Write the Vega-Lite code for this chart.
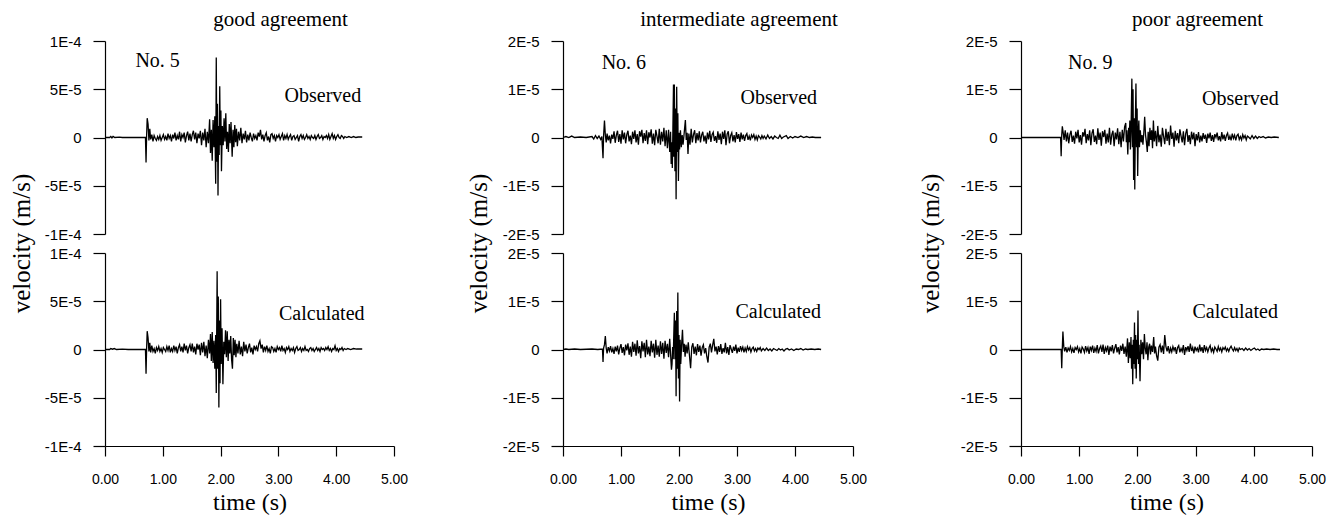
{
  "$schema": "https://vega.github.io/schema/vega-lite/v6.json",
  "background": "white",
  "padding": {"left": 9, "top": 9, "right": 5, "bottom": 5},
  "bounds": "flush",
  "spacing": 458,
  "config": {
    "view": {"stroke": null},
    "axis": {"grid": false, "domainColor": "black", "tickColor": "black", "labelColor": "black", "titleColor": "black", "domainWidth": 1.2, "tickWidth": 1.2, "labelFont": "Liberation Sans", "labelFontSize": 14, "titleFont": "Liberation Serif", "titleFontSize": 24, "titleFontWeight": "normal"},
    "axisY": {"tickSize": 12, "labelPadding": 12, "labelFontSize": 15, "titleFontSize": 25},
    "axisX": {"tickSize": 10, "labelPadding": 16, "titlePadding": 4, "labelFlush": false},
    "title": {"font": "Liberation Serif", "fontSize": 21, "fontWeight": "normal", "color": "black", "frame": "group", "anchor": "middle"},
    "text": {"font": "Liberation Serif", "fontSize": 20, "color": "black", "align": "center", "baseline": "middle"},
    "line": {"color": "black", "strokeWidth": 1.3}
  },
  "datasets": {
    "g_obs": [{"t":0,"v":0},{"t":0.08,"v":0},{"t":0.1,"v":1},{"t":0.12,"v":-0.5},{"t":0.14,"v":1.2},{"t":0.17,"v":0},{"t":0.25,"v":0.4},{"t":0.3,"v":0},{"t":0.45,"v":0.2},{"t":0.6,"v":0},{"t":0.7,"v":0},{"t":0.71,"v":-26},{"t":0.72,"v":2},{"t":0.73,"v":20},{"t":0.745,"v":14},{"t":0.76,"v":-3},{"t":0.775,"v":9},{"t":0.79,"v":-2},{"t":0.81,"v":3},{"t":0.83,"v":-4},{"t":0.85,"v":2},{"t":0.87,"v":-1},{"t":0.89,"v":-3},{"t":0.91,"v":1},{"t":0.93,"v":-2},{"t":0.95,"v":2},{"t":0.97,"v":-3},{"t":0.99,"v":0},{"t":1.01,"v":3},{"t":1.03,"v":-2},{"t":1.05,"v":1},{"t":1.07,"v":-3},{"t":1.09,"v":4},{"t":1.11,"v":-1},{"t":1.13,"v":2},{"t":1.15,"v":-4},{"t":1.17,"v":3},{"t":1.19,"v":-1},{"t":1.21,"v":5},{"t":1.23,"v":-3},{"t":1.25,"v":2},{"t":1.27,"v":-2},{"t":1.29,"v":6},{"t":1.31,"v":-4},{"t":1.33,"v":3},{"t":1.35,"v":0},{"t":1.37,"v":5},{"t":1.39,"v":-5},{"t":1.41,"v":2},{"t":1.43,"v":6},{"t":1.45,"v":-3},{"t":1.47,"v":4},{"t":1.49,"v":-4},{"t":1.51,"v":3},{"t":1.53,"v":7},{"t":1.55,"v":-2},{"t":1.57,"v":5},{"t":1.59,"v":-6},{"t":1.61,"v":4},{"t":1.63,"v":-1},{"t":1.65,"v":7},{"t":1.67,"v":-8},{"t":1.69,"v":5},{"t":1.71,"v":-3},{"t":1.73,"v":9},{"t":1.75,"v":-10},{"t":1.77,"v":6},{"t":1.79,"v":-6},{"t":1.81,"v":19},{"t":1.825,"v":-16},{"t":1.84,"v":8},{"t":1.855,"v":-24},{"t":1.87,"v":18},{"t":1.885,"v":-10},{"t":1.9,"v":22},{"t":1.915,"v":-48},{"t":1.925,"v":83},{"t":1.935,"v":-25},{"t":1.945,"v":35},{"t":1.955,"v":-60},{"t":1.965,"v":12},{"t":1.975,"v":-18},{"t":1.985,"v":53},{"t":1.995,"v":-8},{"t":2.005,"v":28},{"t":2.015,"v":-35},{"t":2.03,"v":12},{"t":2.045,"v":-8},{"t":2.06,"v":20},{"t":2.075,"v":-4},{"t":2.09,"v":25},{"t":2.105,"v":-12},{"t":2.12,"v":6},{"t":2.135,"v":-15},{"t":2.15,"v":14},{"t":2.165,"v":-6},{"t":2.18,"v":16},{"t":2.2,"v":-20},{"t":2.215,"v":8},{"t":2.23,"v":-10},{"t":2.245,"v":13},{"t":2.26,"v":-5},{"t":2.275,"v":9},{"t":2.29,"v":-9},{"t":2.31,"v":6},{"t":2.33,"v":-3},{"t":2.35,"v":10},{"t":2.37,"v":-6},{"t":2.39,"v":4},{"t":2.41,"v":-2},{"t":2.43,"v":7},{"t":2.45,"v":-5},{"t":2.47,"v":3},{"t":2.49,"v":-3},{"t":2.51,"v":5},{"t":2.53,"v":0},{"t":2.55,"v":-4},{"t":2.57,"v":4},{"t":2.59,"v":-1},{"t":2.61,"v":2},{"t":2.63,"v":-3},{"t":2.65,"v":5},{"t":2.67,"v":1},{"t":2.69,"v":8},{"t":2.71,"v":-2},{"t":2.73,"v":3},{"t":2.75,"v":-4},{"t":2.77,"v":2},{"t":2.79,"v":5},{"t":2.81,"v":-3},{"t":2.83,"v":1},{"t":2.85,"v":-5},{"t":2.87,"v":3},{"t":2.89,"v":4},{"t":2.91,"v":-1},{"t":2.93,"v":2},{"t":2.95,"v":-4},{"t":2.97,"v":2},{"t":2.99,"v":0},{"t":3.01,"v":3},{"t":3.03,"v":-2},{"t":3.05,"v":1},{"t":3.07,"v":4},{"t":3.09,"v":-3},{"t":3.11,"v":2},{"t":3.13,"v":-1},{"t":3.15,"v":3},{"t":3.17,"v":-2},{"t":3.19,"v":1},{"t":3.21,"v":3},{"t":3.23,"v":-3},{"t":3.25,"v":1},{"t":3.27,"v":2},{"t":3.29,"v":-2},{"t":3.31,"v":0},{"t":3.33,"v":2},{"t":3.35,"v":-4},{"t":3.37,"v":1},{"t":3.39,"v":3},{"t":3.41,"v":-1},{"t":3.43,"v":2},{"t":3.45,"v":-2},{"t":3.47,"v":0},{"t":3.49,"v":3},{"t":3.51,"v":-1},{"t":3.53,"v":1},{"t":3.55,"v":-2},{"t":3.57,"v":2},{"t":3.59,"v":0},{"t":3.61,"v":-1},{"t":3.63,"v":2},{"t":3.65,"v":-2},{"t":3.67,"v":1},{"t":3.69,"v":3},{"t":3.71,"v":-1},{"t":3.73,"v":0},{"t":3.75,"v":2},{"t":3.77,"v":-2},{"t":3.79,"v":1},{"t":3.81,"v":0},{"t":3.83,"v":2},{"t":3.85,"v":-1},{"t":3.87,"v":3},{"t":3.89,"v":-2},{"t":3.91,"v":1},{"t":3.93,"v":4},{"t":3.95,"v":-1},{"t":3.97,"v":2},{"t":3.99,"v":-2},{"t":4.01,"v":1},{"t":4.03,"v":3},{"t":4.05,"v":0},{"t":4.07,"v":-1},{"t":4.09,"v":2},{"t":4.11,"v":1},{"t":4.13,"v":-1},{"t":4.15,"v":1},{"t":4.18,"v":0},{"t":4.22,"v":1},{"t":4.26,"v":0},{"t":4.3,"v":1},{"t":4.34,"v":0},{"t":4.38,"v":0.5},{"t":4.45,"v":0.5}],
    "g_cal": [{"t":0,"v":0},{"t":0.08,"v":0},{"t":0.1,"v":1},{"t":0.13,"v":0.3},{"t":0.16,"v":1},{"t":0.2,"v":0},{"t":0.3,"v":0.3},{"t":0.4,"v":0},{"t":0.55,"v":0.2},{"t":0.7,"v":0},{"t":0.71,"v":-25},{"t":0.72,"v":1},{"t":0.73,"v":19},{"t":0.745,"v":12},{"t":0.76,"v":-2},{"t":0.775,"v":7},{"t":0.79,"v":-3},{"t":0.81,"v":4},{"t":0.83,"v":-2},{"t":0.85,"v":1},{"t":0.87,"v":-4},{"t":0.89,"v":2},{"t":0.91,"v":-1},{"t":0.93,"v":3},{"t":0.95,"v":-2},{"t":0.97,"v":1},{"t":0.99,"v":-3},{"t":1.01,"v":2},{"t":1.03,"v":0},{"t":1.05,"v":-2},{"t":1.07,"v":3},{"t":1.09,"v":-1},{"t":1.11,"v":4},{"t":1.13,"v":-3},{"t":1.15,"v":1},{"t":1.17,"v":-2},{"t":1.19,"v":4},{"t":1.21,"v":-1},{"t":1.23,"v":3},{"t":1.25,"v":-4},{"t":1.27,"v":2},{"t":1.29,"v":5},{"t":1.31,"v":-2},{"t":1.33,"v":3},{"t":1.35,"v":-3},{"t":1.37,"v":6},{"t":1.39,"v":-1},{"t":1.41,"v":4},{"t":1.43,"v":-4},{"t":1.45,"v":2},{"t":1.47,"v":5},{"t":1.49,"v":-2},{"t":1.51,"v":6},{"t":1.53,"v":-3},{"t":1.55,"v":3},{"t":1.57,"v":-5},{"t":1.59,"v":6},{"t":1.61,"v":0},{"t":1.63,"v":5},{"t":1.65,"v":-6},{"t":1.67,"v":7},{"t":1.69,"v":-3},{"t":1.71,"v":8},{"t":1.73,"v":-7},{"t":1.75,"v":4},{"t":1.77,"v":-9},{"t":1.79,"v":10},{"t":1.81,"v":-4},{"t":1.825,"v":16},{"t":1.84,"v":-12},{"t":1.855,"v":18},{"t":1.87,"v":-14},{"t":1.885,"v":9},{"t":1.9,"v":-20},{"t":1.915,"v":15},{"t":1.925,"v":-45},{"t":1.94,"v":81},{"t":1.95,"v":-20},{"t":1.96,"v":55},{"t":1.97,"v":-60},{"t":1.98,"v":30},{"t":1.99,"v":-35},{"t":2.0,"v":52},{"t":2.01,"v":-15},{"t":2.025,"v":22},{"t":2.04,"v":-36},{"t":2.055,"v":8},{"t":2.07,"v":-5},{"t":2.085,"v":20},{"t":2.1,"v":-8},{"t":2.115,"v":19},{"t":2.13,"v":-12},{"t":2.145,"v":10},{"t":2.16,"v":-4},{"t":2.175,"v":14},{"t":2.19,"v":-10},{"t":2.205,"v":-20},{"t":2.22,"v":12},{"t":2.235,"v":-6},{"t":2.25,"v":10},{"t":2.265,"v":-8},{"t":2.28,"v":6},{"t":2.3,"v":-4},{"t":2.32,"v":9},{"t":2.34,"v":-5},{"t":2.36,"v":3},{"t":2.38,"v":-7},{"t":2.4,"v":8},{"t":2.42,"v":-2},{"t":2.44,"v":5},{"t":2.46,"v":-4},{"t":2.48,"v":2},{"t":2.5,"v":6},{"t":2.52,"v":-3},{"t":2.54,"v":2},{"t":2.56,"v":-5},{"t":2.58,"v":4},{"t":2.6,"v":0},{"t":2.62,"v":3},{"t":2.64,"v":-2},{"t":2.66,"v":6},{"t":2.68,"v":9},{"t":2.7,"v":1},{"t":2.72,"v":5},{"t":2.74,"v":-3},{"t":2.76,"v":3},{"t":2.78,"v":-1},{"t":2.8,"v":4},{"t":2.82,"v":-2},{"t":2.84,"v":1},{"t":2.86,"v":-4},{"t":2.88,"v":3},{"t":2.9,"v":2},{"t":2.92,"v":-2},{"t":2.94,"v":1},{"t":2.96,"v":-3},{"t":2.98,"v":3},{"t":3.0,"v":0},{"t":3.02,"v":2},{"t":3.04,"v":-2},{"t":3.06,"v":4},{"t":3.08,"v":-1},{"t":3.1,"v":1},{"t":3.12,"v":-3},{"t":3.14,"v":2},{"t":3.16,"v":0},{"t":3.18,"v":3},{"t":3.2,"v":-2},{"t":3.22,"v":1},{"t":3.24,"v":-1},{"t":3.26,"v":2},{"t":3.28,"v":-3},{"t":3.3,"v":1},{"t":3.32,"v":3},{"t":3.34,"v":-1},{"t":3.36,"v":0},{"t":3.38,"v":2},{"t":3.4,"v":-2},{"t":3.42,"v":1},{"t":3.44,"v":-1},{"t":3.46,"v":3},{"t":3.48,"v":-1},{"t":3.5,"v":0},{"t":3.52,"v":-2},{"t":3.54,"v":1},{"t":3.56,"v":2},{"t":3.58,"v":-1},{"t":3.6,"v":1},{"t":3.62,"v":-2},{"t":3.64,"v":0},{"t":3.66,"v":2},{"t":3.68,"v":-1},{"t":3.7,"v":1},{"t":3.72,"v":-2},{"t":3.74,"v":2},{"t":3.76,"v":0},{"t":3.78,"v":1},{"t":3.8,"v":-1},{"t":3.82,"v":2},{"t":3.84,"v":0},{"t":3.86,"v":3},{"t":3.88,"v":-1},{"t":3.9,"v":1},{"t":3.92,"v":-2},{"t":3.94,"v":1},{"t":3.96,"v":0},{"t":3.98,"v":4},{"t":4.0,"v":-1},{"t":4.02,"v":1},{"t":4.04,"v":-2},{"t":4.06,"v":1},{"t":4.08,"v":0},{"t":4.1,"v":2},{"t":4.12,"v":-1},{"t":4.14,"v":1},{"t":4.17,"v":0},{"t":4.2,"v":1},{"t":4.25,"v":0},{"t":4.3,"v":1},{"t":4.35,"v":0.5},{"t":4.4,"v":0.5},{"t":4.45,"v":0.5}],
    "i_obs": [{"t":0,"v":0},{"t":0.05,"v":0.2},{"t":0.1,"v":0},{"t":0.15,"v":0.3},{"t":0.2,"v":0},{"t":0.3,"v":0.1},{"t":0.4,"v":0},{"t":0.5,"v":0.2},{"t":0.53,"v":-0.3},{"t":0.56,"v":0.4},{"t":0.59,"v":-0.2},{"t":0.62,"v":0.3},{"t":0.65,"v":-0.4},{"t":0.67,"v":0.2},{"t":0.69,"v":-4.3},{"t":0.7,"v":0.4},{"t":0.715,"v":3.5},{"t":0.73,"v":0.5},{"t":0.745,"v":-1},{"t":0.76,"v":0.8},{"t":0.78,"v":-0.6},{"t":0.8,"v":0.4},{"t":0.82,"v":-1.2},{"t":0.84,"v":0.6},{"t":0.86,"v":-0.3},{"t":0.88,"v":1.3},{"t":0.9,"v":-1.1},{"t":0.92,"v":0.5},{"t":0.94,"v":1.4},{"t":0.96,"v":-0.9},{"t":0.98,"v":0.7},{"t":1.0,"v":-1.3},{"t":1.02,"v":1.5},{"t":1.04,"v":-0.4},{"t":1.06,"v":1},{"t":1.08,"v":-1.2},{"t":1.1,"v":0.6},{"t":1.12,"v":1.4},{"t":1.14,"v":-0.8},{"t":1.16,"v":0.4},{"t":1.18,"v":-1.4},{"t":1.2,"v":1.2},{"t":1.22,"v":-0.3},{"t":1.24,"v":1.5},{"t":1.26,"v":-1},{"t":1.28,"v":0.7},{"t":1.3,"v":-1.5},{"t":1.32,"v":1.3},{"t":1.34,"v":0.2},{"t":1.36,"v":1.6},{"t":1.38,"v":-1.2},{"t":1.4,"v":0.9},{"t":1.42,"v":-0.7},{"t":1.44,"v":1.5},{"t":1.46,"v":-1.4},{"t":1.48,"v":1.1},{"t":1.5,"v":0},{"t":1.52,"v":1.7},{"t":1.54,"v":-1.3},{"t":1.56,"v":0.8},{"t":1.58,"v":-1.6},{"t":1.6,"v":1.6},{"t":1.62,"v":0.3},{"t":1.64,"v":-1.2},{"t":1.66,"v":1.8},{"t":1.68,"v":-1.5},{"t":1.7,"v":1.2},{"t":1.72,"v":-0.8},{"t":1.74,"v":2},{"t":1.76,"v":-1.8},{"t":1.78,"v":1.5},{"t":1.8,"v":-2.2},{"t":1.82,"v":1.6},{"t":1.84,"v":-3},{"t":1.855,"v":1.2},{"t":1.865,"v":-5.5},{"t":1.875,"v":-1},{"t":1.885,"v":-6.3},{"t":1.895,"v":2},{"t":1.905,"v":11},{"t":1.91,"v":-4},{"t":1.92,"v":11},{"t":1.93,"v":-7},{"t":1.94,"v":6},{"t":1.95,"v":-12.8},{"t":1.96,"v":10.5},{"t":1.97,"v":-3},{"t":1.98,"v":5},{"t":1.99,"v":-9},{"t":2.0,"v":1},{"t":2.01,"v":-2.5},{"t":2.025,"v":1.5},{"t":2.04,"v":-2},{"t":2.055,"v":0.5},{"t":2.07,"v":-1.5},{"t":2.09,"v":1},{"t":2.11,"v":3.6},{"t":2.125,"v":-0.5},{"t":2.14,"v":1},{"t":2.155,"v":-3.4},{"t":2.17,"v":0.8},{"t":2.19,"v":-1.5},{"t":2.21,"v":1.8},{"t":2.23,"v":-1},{"t":2.25,"v":0.6},{"t":2.27,"v":1.5},{"t":2.29,"v":-1.2},{"t":2.31,"v":0.9},{"t":2.33,"v":-0.6},{"t":2.35,"v":1.3},{"t":2.37,"v":-1},{"t":2.39,"v":0.5},{"t":2.41,"v":1.2},{"t":2.43,"v":-0.8},{"t":2.45,"v":0.4},{"t":2.47,"v":-1.3},{"t":2.49,"v":1},{"t":2.51,"v":-0.4},{"t":2.53,"v":1.4},{"t":2.55,"v":-0.9},{"t":2.57,"v":0.6},{"t":2.59,"v":1.1},{"t":2.61,"v":-0.7},{"t":2.63,"v":0.3},{"t":2.65,"v":-1.1},{"t":2.67,"v":1.3},{"t":2.69,"v":-0.5},{"t":2.71,"v":0.8},{"t":2.73,"v":-1.4},{"t":2.75,"v":1.2},{"t":2.77,"v":-0.3},{"t":2.79,"v":1.5},{"t":2.81,"v":-1.6},{"t":2.83,"v":0.7},{"t":2.85,"v":1.3},{"t":2.87,"v":-1.2},{"t":2.89,"v":0.4},{"t":2.91,"v":1},{"t":2.93,"v":-0.8},{"t":2.95,"v":0.5},{"t":2.97,"v":-1},{"t":2.99,"v":1.1},{"t":3.01,"v":-0.3},{"t":3.03,"v":0.7},{"t":3.05,"v":-0.9},{"t":3.07,"v":1},{"t":3.09,"v":-0.4},{"t":3.11,"v":0.6},{"t":3.13,"v":-0.7},{"t":3.15,"v":0.4},{"t":3.17,"v":0.8},{"t":3.19,"v":-0.5},{"t":3.21,"v":0.3},{"t":3.23,"v":-0.6},{"t":3.25,"v":0.5},{"t":3.27,"v":0},{"t":3.29,"v":0.6},{"t":3.31,"v":-0.4},{"t":3.33,"v":0.3},{"t":3.35,"v":-0.5},{"t":3.37,"v":0.4},{"t":3.39,"v":0.1},{"t":3.41,"v":-0.3},{"t":3.43,"v":0.4},{"t":3.45,"v":-0.2},{"t":3.47,"v":0.3},{"t":3.5,"v":-0.3},{"t":3.53,"v":0.5},{"t":3.56,"v":-0.2},{"t":3.59,"v":0.2},{"t":3.62,"v":-0.3},{"t":3.65,"v":0.3},{"t":3.68,"v":0},{"t":3.71,"v":-0.2},{"t":3.74,"v":0.5},{"t":3.77,"v":-0.2},{"t":3.8,"v":0.1},{"t":3.85,"v":0.4},{"t":3.88,"v":-0.2},{"t":3.92,"v":0.2},{"t":3.96,"v":-0.1},{"t":4.0,"v":0.2},{"t":4.05,"v":0},{"t":4.1,"v":0.3},{"t":4.15,"v":0},{"t":4.2,"v":0.2},{"t":4.25,"v":0},{"t":4.3,"v":0.1},{"t":4.35,"v":0},{"t":4.45,"v":0}],
    "i_cal": [{"t":0,"v":0},{"t":0.05,"v":0.1},{"t":0.1,"v":0},{"t":0.2,"v":0.1},{"t":0.3,"v":0},{"t":0.5,"v":0.1},{"t":0.6,"v":0},{"t":0.68,"v":0.1},{"t":0.69,"v":-2.6},{"t":0.7,"v":0.3},{"t":0.715,"v":1},{"t":0.73,"v":2.8},{"t":0.745,"v":0.3},{"t":0.76,"v":-0.8},{"t":0.78,"v":0.5},{"t":0.8,"v":-0.3},{"t":0.82,"v":0.7},{"t":0.84,"v":-0.6},{"t":0.86,"v":0.2},{"t":0.88,"v":-0.9},{"t":0.9,"v":0.6},{"t":0.92,"v":-0.4},{"t":0.94,"v":0.8},{"t":0.96,"v":-1},{"t":0.98,"v":0.3},{"t":1.0,"v":1.1},{"t":1.02,"v":-0.7},{"t":1.04,"v":0.5},{"t":1.06,"v":-1.2},{"t":1.08,"v":1},{"t":1.1,"v":-0.2},{"t":1.12,"v":1.3},{"t":1.14,"v":-1.1},{"t":1.16,"v":0.6},{"t":1.18,"v":-1.5},{"t":1.2,"v":1.6},{"t":1.22,"v":-0.5},{"t":1.24,"v":1.2},{"t":1.26,"v":-1.3},{"t":1.28,"v":1.9},{"t":1.3,"v":-0.8},{"t":1.32,"v":0.7},{"t":1.34,"v":-1.8},{"t":1.36,"v":1.7},{"t":1.38,"v":-0.4},{"t":1.4,"v":1.4},{"t":1.42,"v":-1.6},{"t":1.44,"v":2},{"t":1.46,"v":-1},{"t":1.48,"v":0.6},{"t":1.5,"v":-1.4},{"t":1.52,"v":1.8},{"t":1.54,"v":-0.6},{"t":1.56,"v":1.2},{"t":1.58,"v":-1.7},{"t":1.6,"v":2},{"t":1.62,"v":-1.1},{"t":1.64,"v":0.8},{"t":1.66,"v":-1.5},{"t":1.68,"v":1.7},{"t":1.7,"v":-0.9},{"t":1.72,"v":1.4},{"t":1.74,"v":-1.9},{"t":1.76,"v":1.8},{"t":1.78,"v":-0.7},{"t":1.8,"v":1.2},{"t":1.82,"v":-1.6},{"t":1.84,"v":2.2},{"t":1.855,"v":-1},{"t":1.87,"v":-4.2},{"t":1.88,"v":-3},{"t":1.89,"v":0.5},{"t":1.9,"v":-2},{"t":1.91,"v":3},{"t":1.92,"v":7.6},{"t":1.93,"v":-2},{"t":1.94,"v":6},{"t":1.95,"v":-9.7},{"t":1.96,"v":8},{"t":1.97,"v":-4},{"t":1.98,"v":11.8},{"t":1.99,"v":-6},{"t":2.0,"v":3},{"t":2.01,"v":-10.8},{"t":2.02,"v":2},{"t":2.03,"v":-3},{"t":2.045,"v":1},{"t":2.06,"v":4.1},{"t":2.075,"v":-0.5},{"t":2.09,"v":1.2},{"t":2.105,"v":-1.5},{"t":2.12,"v":1},{"t":2.14,"v":-0.8},{"t":2.16,"v":1.5},{"t":2.18,"v":-1.2},{"t":2.2,"v":-3.9},{"t":2.22,"v":0.5},{"t":2.24,"v":1.3},{"t":2.26,"v":-0.9},{"t":2.28,"v":0.6},{"t":2.3,"v":-1.2},{"t":2.32,"v":1.1},{"t":2.34,"v":-0.5},{"t":2.36,"v":0.8},{"t":2.38,"v":-1.3},{"t":2.4,"v":0.4},{"t":2.42,"v":1},{"t":2.44,"v":-0.8},{"t":2.46,"v":0.3},{"t":2.48,"v":-1.5},{"t":2.5,"v":-2.7},{"t":2.52,"v":0.5},{"t":2.54,"v":1.2},{"t":2.56,"v":-0.6},{"t":2.58,"v":0.9},{"t":2.6,"v":2.2},{"t":2.62,"v":-0.4},{"t":2.64,"v":0.6},{"t":2.66,"v":-1},{"t":2.68,"v":0.7},{"t":2.7,"v":-0.5},{"t":2.72,"v":1.1},{"t":2.74,"v":-0.9},{"t":2.76,"v":0.3},{"t":2.78,"v":-0.6},{"t":2.8,"v":1.4},{"t":2.82,"v":-0.8},{"t":2.84,"v":0.5},{"t":2.86,"v":-1.1},{"t":2.88,"v":0.9},{"t":2.9,"v":0.1},{"t":2.92,"v":-0.7},{"t":2.94,"v":0.6},{"t":2.96,"v":-0.3},{"t":2.98,"v":1},{"t":3.0,"v":-0.8},{"t":3.02,"v":0.4},{"t":3.04,"v":-0.5},{"t":3.06,"v":0.7},{"t":3.08,"v":-0.2},{"t":3.1,"v":0.5},{"t":3.12,"v":-0.6},{"t":3.14,"v":0.3},{"t":3.16,"v":-0.4},{"t":3.18,"v":0.6},{"t":3.2,"v":-0.1},{"t":3.22,"v":0.4},{"t":3.24,"v":-0.5},{"t":3.26,"v":0.2},{"t":3.28,"v":0.5},{"t":3.3,"v":-0.3},{"t":3.32,"v":0.2},{"t":3.34,"v":-0.4},{"t":3.36,"v":0.3},{"t":3.38,"v":0},{"t":3.4,"v":0.4},{"t":3.42,"v":-0.3},{"t":3.45,"v":0.2},{"t":3.48,"v":-0.2},{"t":3.51,"v":0.3},{"t":3.54,"v":-0.2},{"t":3.57,"v":0.1},{"t":3.6,"v":-0.3},{"t":3.63,"v":0.2},{"t":3.66,"v":0},{"t":3.69,"v":-0.2},{"t":3.72,"v":0.2},{"t":3.75,"v":-0.1},{"t":3.78,"v":0.1},{"t":3.81,"v":-0.3},{"t":3.84,"v":0.1},{"t":3.87,"v":0.2},{"t":3.9,"v":-0.1},{"t":3.94,"v":0.1},{"t":3.98,"v":-0.2},{"t":4.02,"v":0.1},{"t":4.06,"v":0},{"t":4.1,"v":0.2},{"t":4.14,"v":-0.1},{"t":4.18,"v":0.1},{"t":4.22,"v":0},{"t":4.28,"v":0.1},{"t":4.34,"v":0},{"t":4.4,"v":0.1},{"t":4.45,"v":0}],
    "p_obs": [{"t":0,"v":0},{"t":0.2,"v":0},{"t":0.4,"v":0},{"t":0.6,"v":0},{"t":0.68,"v":0},{"t":0.69,"v":-3.9},{"t":0.7,"v":0.5},{"t":0.71,"v":2.3},{"t":0.725,"v":1},{"t":0.74,"v":-0.5},{"t":0.76,"v":1.5},{"t":0.78,"v":-0.8},{"t":0.8,"v":1},{"t":0.82,"v":-1.2},{"t":0.84,"v":0.6},{"t":0.86,"v":1.4},{"t":0.88,"v":-0.9},{"t":0.9,"v":0.4},{"t":0.92,"v":-1.3},{"t":0.94,"v":1.2},{"t":0.96,"v":-0.2},{"t":0.98,"v":1.6},{"t":1.0,"v":-1},{"t":1.02,"v":0.5},{"t":1.04,"v":-1.5},{"t":1.06,"v":1.1},{"t":1.08,"v":0.2},{"t":1.1,"v":1.8},{"t":1.12,"v":-1.2},{"t":1.14,"v":0.7},{"t":1.16,"v":-0.6},{"t":1.18,"v":1.5},{"t":1.2,"v":-1.6},{"t":1.22,"v":0.9},{"t":1.24,"v":1.7},{"t":1.26,"v":-0.9},{"t":1.28,"v":0.4},{"t":1.3,"v":-1.4},{"t":1.32,"v":1.9},{"t":1.34,"v":-0.5},{"t":1.36,"v":1},{"t":1.38,"v":-1.7},{"t":1.4,"v":1.3},{"t":1.42,"v":0.1},{"t":1.44,"v":1.6},{"t":1.46,"v":-1.3},{"t":1.48,"v":0.8},{"t":1.5,"v":-1},{"t":1.52,"v":2},{"t":1.54,"v":-1.5},{"t":1.56,"v":0.6},{"t":1.58,"v":1.4},{"t":1.6,"v":-1.8},{"t":1.62,"v":1},{"t":1.64,"v":-0.4},{"t":1.66,"v":1.9},{"t":1.68,"v":-1.4},{"t":1.7,"v":1.2},{"t":1.72,"v":-2},{"t":1.74,"v":1.6},{"t":1.76,"v":-0.8},{"t":1.78,"v":2.2},{"t":1.8,"v":3},{"t":1.81,"v":-1},{"t":1.82,"v":1.5},{"t":1.835,"v":-3.5},{"t":1.85,"v":2},{"t":1.86,"v":-1},{"t":1.87,"v":3.5},{"t":1.88,"v":-2.5},{"t":1.89,"v":1},{"t":1.905,"v":12.2},{"t":1.915,"v":-2},{"t":1.925,"v":10},{"t":1.935,"v":-8.8},{"t":1.945,"v":4},{"t":1.955,"v":-10.8},{"t":1.965,"v":3},{"t":1.975,"v":11.2},{"t":1.985,"v":-2},{"t":1.995,"v":6},{"t":2.005,"v":-8},{"t":2.015,"v":1},{"t":2.025,"v":3.5},{"t":2.035,"v":-2},{"t":2.05,"v":1.5},{"t":2.065,"v":-1},{"t":2.08,"v":0.5},{"t":2.095,"v":-1.5},{"t":2.11,"v":1},{"t":2.125,"v":4.3},{"t":2.14,"v":0.5},{"t":2.155,"v":-1},{"t":2.17,"v":-3},{"t":2.185,"v":1.2},{"t":2.2,"v":-1.8},{"t":2.215,"v":2},{"t":2.23,"v":-0.5},{"t":2.245,"v":1.5},{"t":2.26,"v":-2.2},{"t":2.275,"v":3.5},{"t":2.29,"v":-0.8},{"t":2.31,"v":1.4},{"t":2.33,"v":-1.8},{"t":2.35,"v":2.4},{"t":2.37,"v":-1},{"t":2.39,"v":0.6},{"t":2.41,"v":-1.9},{"t":2.43,"v":2},{"t":2.45,"v":0.2},{"t":2.47,"v":-1.4},{"t":2.49,"v":1.8},{"t":2.51,"v":-0.7},{"t":2.53,"v":1.2},{"t":2.55,"v":-1.6},{"t":2.57,"v":2.5},{"t":2.59,"v":-0.3},{"t":2.61,"v":1},{"t":2.63,"v":-1.9},{"t":2.65,"v":1.4},{"t":2.67,"v":-0.6},{"t":2.69,"v":0.9},{"t":2.71,"v":-1.2},{"t":2.73,"v":1.7},{"t":2.75,"v":0.3},{"t":2.77,"v":-1},{"t":2.79,"v":1.3},{"t":2.81,"v":-1.6},{"t":2.83,"v":0.8},{"t":2.85,"v":1.8},{"t":2.87,"v":-0.9},{"t":2.89,"v":0.5},{"t":2.91,"v":-1.4},{"t":2.93,"v":1.2},{"t":2.95,"v":-0.4},{"t":2.97,"v":1},{"t":2.99,"v":-1.8},{"t":3.01,"v":0.7},{"t":3.03,"v":-0.6},{"t":3.05,"v":1.1},{"t":3.07,"v":-1},{"t":3.09,"v":0.4},{"t":3.11,"v":-0.8},{"t":3.13,"v":0.9},{"t":3.15,"v":-0.3},{"t":3.17,"v":0.6},{"t":3.19,"v":-1.1},{"t":3.21,"v":0.8},{"t":3.23,"v":-0.2},{"t":3.25,"v":1},{"t":3.27,"v":-0.7},{"t":3.29,"v":0.5},{"t":3.31,"v":-0.9},{"t":3.33,"v":0.7},{"t":3.35,"v":0},{"t":3.37,"v":1},{"t":3.39,"v":-0.6},{"t":3.41,"v":0.3},{"t":3.43,"v":-0.8},{"t":3.45,"v":1.1},{"t":3.47,"v":-0.4},{"t":3.49,"v":0.6},{"t":3.51,"v":-0.7},{"t":3.53,"v":0.4},{"t":3.55,"v":0.9},{"t":3.57,"v":-0.5},{"t":3.59,"v":0.3},{"t":3.61,"v":-0.6},{"t":3.63,"v":0.8},{"t":3.65,"v":-0.2},{"t":3.67,"v":0.5},{"t":3.69,"v":-0.6},{"t":3.71,"v":0.4},{"t":3.73,"v":0.7},{"t":3.75,"v":-0.4},{"t":3.77,"v":0.2},{"t":3.79,"v":-0.5},{"t":3.81,"v":0.6},{"t":3.83,"v":-0.1},{"t":3.85,"v":0.4},{"t":3.87,"v":-0.5},{"t":3.89,"v":0.3},{"t":3.91,"v":0.1},{"t":3.94,"v":-0.3},{"t":3.97,"v":0.4},{"t":4.0,"v":-0.2},{"t":4.03,"v":0.3},{"t":4.06,"v":-0.2},{"t":4.09,"v":0.2},{"t":4.12,"v":0},{"t":4.16,"v":0.2},{"t":4.2,"v":-0.1},{"t":4.25,"v":0.1},{"t":4.3,"v":0},{"t":4.35,"v":0.1},{"t":4.43,"v":0}],
    "p_cal": [{"t":0,"v":0},{"t":0.2,"v":0},{"t":0.4,"v":0},{"t":0.6,"v":0},{"t":0.69,"v":0},{"t":0.7,"v":-3.9},{"t":0.71,"v":0.3},{"t":0.72,"v":3.7},{"t":0.735,"v":0.6},{"t":0.75,"v":-0.4},{"t":0.77,"v":0.5},{"t":0.79,"v":-0.6},{"t":0.81,"v":0.3},{"t":0.83,"v":-0.2},{"t":0.85,"v":0.6},{"t":0.87,"v":-0.5},{"t":0.89,"v":0.2},{"t":0.91,"v":-0.7},{"t":0.93,"v":0.4},{"t":0.95,"v":0},{"t":0.97,"v":0.6},{"t":0.99,"v":-0.5},{"t":1.01,"v":0.2},{"t":1.03,"v":-0.8},{"t":1.05,"v":0.5},{"t":1.07,"v":0.1},{"t":1.09,"v":-0.6},{"t":1.11,"v":0.7},{"t":1.13,"v":-0.3},{"t":1.15,"v":0.4},{"t":1.17,"v":-0.9},{"t":1.19,"v":0.6},{"t":1.21,"v":-0.2},{"t":1.23,"v":0.8},{"t":1.25,"v":-0.7},{"t":1.27,"v":0.3},{"t":1.29,"v":-0.4},{"t":1.31,"v":0.9},{"t":1.33,"v":-0.8},{"t":1.35,"v":0.2},{"t":1.37,"v":0.7},{"t":1.39,"v":-0.5},{"t":1.41,"v":1},{"t":1.43,"v":-0.9},{"t":1.45,"v":0.4},{"t":1.47,"v":-0.3},{"t":1.49,"v":0.8},{"t":1.51,"v":-1.1},{"t":1.53,"v":0.6},{"t":1.55,"v":-0.4},{"t":1.57,"v":0.9},{"t":1.59,"v":-0.8},{"t":1.61,"v":0.3},{"t":1.63,"v":1.1},{"t":1.65,"v":-0.6},{"t":1.67,"v":0.5},{"t":1.69,"v":-1},{"t":1.71,"v":0.8},{"t":1.73,"v":-0.3},{"t":1.75,"v":1.2},{"t":1.77,"v":-0.9},{"t":1.79,"v":0.6},{"t":1.81,"v":-1.5},{"t":1.83,"v":2.3},{"t":1.845,"v":-2.8},{"t":1.86,"v":1.5},{"t":1.875,"v":-1.8},{"t":1.89,"v":2.6},{"t":1.9,"v":-4},{"t":1.91,"v":1},{"t":1.92,"v":-7.2},{"t":1.93,"v":2},{"t":1.94,"v":-3},{"t":1.95,"v":5.6},{"t":1.96,"v":-4},{"t":1.97,"v":3},{"t":1.98,"v":-6},{"t":1.99,"v":2},{"t":2.0,"v":-2},{"t":2.01,"v":8.1},{"t":2.02,"v":-3},{"t":2.03,"v":1},{"t":2.045,"v":-6.6},{"t":2.06,"v":2},{"t":2.075,"v":-1},{"t":2.09,"v":1.5},{"t":2.105,"v":-2},{"t":2.12,"v":3.2},{"t":2.135,"v":0.2},{"t":2.15,"v":-1},{"t":2.165,"v":1.5},{"t":2.18,"v":-2.2},{"t":2.195,"v":0.5},{"t":2.21,"v":1.2},{"t":2.225,"v":-1},{"t":2.24,"v":0.8},{"t":2.26,"v":-0.5},{"t":2.28,"v":2.6},{"t":2.295,"v":-0.8},{"t":2.31,"v":0.6},{"t":2.33,"v":-1.3},{"t":2.35,"v":-2.3},{"t":2.37,"v":0.5},{"t":2.39,"v":1},{"t":2.41,"v":-0.6},{"t":2.43,"v":0.8},{"t":2.45,"v":-0.9},{"t":2.47,"v":3},{"t":2.49,"v":0.6},{"t":2.51,"v":-0.4},{"t":2.53,"v":0.7},{"t":2.55,"v":-0.8},{"t":2.57,"v":0.3},{"t":2.59,"v":-0.5},{"t":2.61,"v":0.6},{"t":2.63,"v":-0.2},{"t":2.65,"v":0.5},{"t":2.67,"v":-0.9},{"t":2.69,"v":0.4},{"t":2.71,"v":0.8},{"t":2.73,"v":-0.6},{"t":2.75,"v":0.2},{"t":2.77,"v":-0.4},{"t":2.79,"v":0.9},{"t":2.81,"v":-1.1},{"t":2.83,"v":0.5},{"t":2.85,"v":-0.2},{"t":2.87,"v":0.7},{"t":2.89,"v":-0.5},{"t":2.91,"v":1.2},{"t":2.93,"v":-0.3},{"t":2.95,"v":0.4},{"t":2.97,"v":-0.8},{"t":2.99,"v":0.6},{"t":3.01,"v":-0.2},{"t":3.03,"v":0.3},{"t":3.05,"v":-0.6},{"t":3.07,"v":1},{"t":3.09,"v":-0.4},{"t":3.11,"v":0.5},{"t":3.13,"v":-0.7},{"t":3.15,"v":0.9},{"t":3.17,"v":-0.2},{"t":3.19,"v":0.4},{"t":3.21,"v":-0.5},{"t":3.23,"v":0.3},{"t":3.25,"v":0.8},{"t":3.27,"v":-0.4},{"t":3.29,"v":0.2},{"t":3.31,"v":-0.6},{"t":3.33,"v":0.5},{"t":3.35,"v":0.1},{"t":3.37,"v":-0.4},{"t":3.39,"v":0.6},{"t":3.41,"v":-0.2},{"t":3.43,"v":0.3},{"t":3.45,"v":-0.5},{"t":3.47,"v":0.4},{"t":3.49,"v":0},{"t":3.51,"v":0.5},{"t":3.53,"v":-0.3},{"t":3.55,"v":0.2},{"t":3.57,"v":-0.4},{"t":3.59,"v":0.3},{"t":3.61,"v":0.7},{"t":3.63,"v":0.1},{"t":3.65,"v":-0.3},{"t":3.67,"v":0.4},{"t":3.69,"v":-0.2},{"t":3.71,"v":0.2},{"t":3.73,"v":-0.4},{"t":3.75,"v":0.3},{"t":3.77,"v":0},{"t":3.8,"v":0.2},{"t":3.83,"v":-0.2},{"t":3.86,"v":0.3},{"t":3.89,"v":-0.1},{"t":3.92,"v":0.2},{"t":3.95,"v":-0.2},{"t":3.98,"v":0.1},{"t":4.01,"v":0.3},{"t":4.04,"v":-0.1},{"t":4.07,"v":0.1},{"t":4.1,"v":-0.2},{"t":4.13,"v":0.1},{"t":4.17,"v":0},{"t":4.22,"v":0.1},{"t":4.28,"v":0},{"t":4.34,"v":0.1},{"t":4.4,"v":0},{"t":4.45,"v":0}]
  },
  "hconcat": [
    {
      "title": {"text": "good agreement", "dx": 175.5},
      "bounds": "flush",
      "spacing": 19,
      "vconcat": [
        {
          "width": 289, "height": 193,
          "encoding": {
            "x": {"field": "t", "type": "quantitative", "scale": {"domain": [0, 5], "nice": false}, "axis": null},
            "y": {"field": "v", "type": "quantitative", "scale": {"domain": [-100, 100], "nice": false}, "axis": {"values": [-100, -50, 0, 50, 100], "labelExpr": "datum.value == 0 ? '0' : replace(upper(format(datum.value * 1e-6, '.0e')), '\u2212', '-')", "title": "velocity (m/s)", "titleX": -84, "titleY": 202, "titleAngle": 270, "titleAlign": "center", "titleBaseline": "middle"}}
          },
          "layer": [
            {"data": {"name": "g_obs"}, "mark": {"type": "line"}},
            {"data": {"values": [{"t": 0.91, "v": 79, "label": "No. 5"}, {"t": 3.77, "v": 42.5, "label": "Observed"}]}, "mark": {"type": "text"}, "encoding": {"text": {"field": "label"}}}
          ]
        },
        {
          "width": 289, "height": 193,
          "encoding": {
            "x": {"field": "t", "type": "quantitative", "scale": {"domain": [0, 5], "nice": false}, "axis": {"values": [0, 1, 2, 3, 4, 5], "format": ".2f", "title": "time (s)"}},
            "y": {"field": "v", "type": "quantitative", "scale": {"domain": [-100, 100], "nice": false}, "axis": {"values": [-100, -50, 0, 50, 100], "labelExpr": "datum.value == 0 ? '0' : replace(upper(format(datum.value * 1e-6, '.0e')), '\u2212', '-')", "title": null}}
          },
          "layer": [
            {"data": {"name": "g_cal"}, "mark": {"type": "line"}},
            {"data": {"values": [{"t": 3.75, "v": 37.3, "label": "Calculated"}]}, "mark": {"type": "text"}, "encoding": {"text": {"field": "label"}}}
          ]
        }
      ]
    },
    {
      "title": {"text": "intermediate agreement", "dx": 176},
      "bounds": "flush",
      "spacing": 19,
      "vconcat": [
        {
          "width": 290, "height": 193,
          "encoding": {
            "x": {"field": "t", "type": "quantitative", "scale": {"domain": [0, 5], "nice": false}, "axis": null},
            "y": {"field": "v", "type": "quantitative", "scale": {"domain": [-20, 20], "nice": false}, "axis": {"values": [-20, -10, 0, 10, 20], "labelExpr": "datum.value == 0 ? '0' : replace(upper(format(datum.value * 1e-6, '.0e')), '\u2212', '-')", "title": "velocity (m/s)", "titleX": -85, "titleY": 202, "titleAngle": 270, "titleAlign": "center", "titleBaseline": "middle"}}
          },
          "layer": [
            {"data": {"name": "i_obs"}, "mark": {"type": "line"}},
            {"data": {"values": [{"t": 1.05, "v": 15.5, "label": "No. 6"}, {"t": 3.72, "v": 8.1, "label": "Observed"}]}, "mark": {"type": "text"}, "encoding": {"text": {"field": "label"}}}
          ]
        },
        {
          "width": 290, "height": 193,
          "encoding": {
            "x": {"field": "t", "type": "quantitative", "scale": {"domain": [0, 5], "nice": false}, "axis": {"values": [0, 1, 2, 3, 4, 5], "format": ".2f", "title": "time (s)"}},
            "y": {"field": "v", "type": "quantitative", "scale": {"domain": [-20, 20], "nice": false}, "axis": {"values": [-20, -10, 0, 10, 20], "labelExpr": "datum.value == 0 ? '0' : replace(upper(format(datum.value * 1e-6, '.0e')), '\u2212', '-')", "title": null}}
          },
          "layer": [
            {"data": {"name": "i_cal"}, "mark": {"type": "line"}},
            {"data": {"values": [{"t": 3.71, "v": 7.7, "label": "Calculated"}]}, "mark": {"type": "text"}, "encoding": {"text": {"field": "label"}}}
          ]
        }
      ]
    },
    {
      "title": {"text": "poor agreement", "dx": 176.5},
      "bounds": "flush",
      "spacing": 19,
      "vconcat": [
        {
          "width": 291, "height": 193,
          "encoding": {
            "x": {"field": "t", "type": "quantitative", "scale": {"domain": [0, 5], "nice": false}, "axis": null},
            "y": {"field": "v", "type": "quantitative", "scale": {"domain": [-20, 20], "nice": false}, "axis": {"values": [-20, -10, 0, 10, 20], "labelExpr": "datum.value == 0 ? '0' : replace(upper(format(datum.value * 1e-6, '.0e')), '\u2212', '-')", "title": "velocity (m/s)", "titleX": -91, "titleY": 202, "titleAngle": 270, "titleAlign": "center", "titleBaseline": "middle"}}
          },
          "layer": [
            {"data": {"name": "p_obs"}, "mark": {"type": "line"}},
            {"data": {"values": [{"t": 1.19, "v": 15.5, "label": "No. 9"}, {"t": 3.77, "v": 7.9, "label": "Observed"}]}, "mark": {"type": "text"}, "encoding": {"text": {"field": "label"}}}
          ]
        },
        {
          "width": 291, "height": 193,
          "encoding": {
            "x": {"field": "t", "type": "quantitative", "scale": {"domain": [0, 5], "nice": false}, "axis": {"values": [0, 1, 2, 3, 4, 5], "format": ".2f", "title": "time (s)"}},
            "y": {"field": "v", "type": "quantitative", "scale": {"domain": [-20, 20], "nice": false}, "axis": {"values": [-20, -10, 0, 10, 20], "labelExpr": "datum.value == 0 ? '0' : replace(upper(format(datum.value * 1e-6, '.0e')), '\u2212', '-')", "title": null}}
          },
          "layer": [
            {"data": {"name": "p_cal"}, "mark": {"type": "line"}},
            {"data": {"values": [{"t": 3.68, "v": 7.7, "label": "Calculated"}]}, "mark": {"type": "text"}, "encoding": {"text": {"field": "label"}}}
          ]
        }
      ]
    }
  ]
}
